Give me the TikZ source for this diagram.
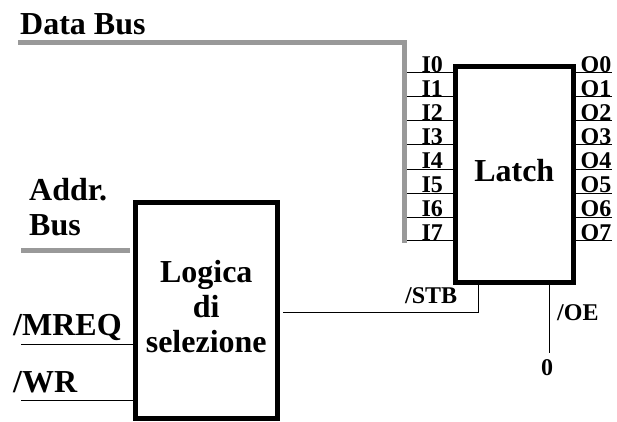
\documentclass[tikz,border=0pt]{standalone}
\usepackage{fontspec}
\setmainfont{Liberation Serif}
\usetikzlibrary{positioning}

\begin{document}
\begin{tikzpicture}[x=1pt, y=-1pt,
        block/.style={draw, rectangle, line width=5pt, align=center, inner sep=0pt, text depth=8pt, font=\fontsize{32}{35}\selectfont\bfseries},
        biglabel/.style={inner sep=0pt, align=left, font=\fontsize{32}{35}\selectfont\bfseries},
        pinlabel/.style={inner sep=0pt, text depth=0pt, font=\fontsize{24}{26}\selectfont\bfseries},
        bus/.style={draw=black!40, line width=5pt},
        wire/.style={draw, line width=1pt}
    ]
        \useasboundingbox (0,0) rectangle (617,421);

        % Blocks
        \node [block, minimum width=117.5pt, minimum height=216pt] (latch) at (514.25,174.5) {Latch};
        \node [block, minimum width=141.5pt, minimum height=216pt] (logica) at (206.25,310.5) {Logica\\di\\selezione};

        % Data bus
        \node [coordinate] (databus) at (18,42.5) {};
        \node [coordinate] (buscorner) at (404.5,42.5) {};
        \node [coordinate] (busend) at (404.5,242.5) {};
        \draw [bus] (databus) -- (buscorner) -- (busend);
        \node [biglabel, anchor=base west] (datalabel) at (20,34) {Data Bus};

        % Latch inputs
        \node [coordinate] (i0) at (407,72.7) {};
        \node [coordinate, below=24pt of i0] (i1) {};
        \node [coordinate, below=24pt of i1] (i2) {};
        \node [coordinate, below=24.2pt of i2] (i3) {};
        \node [coordinate, below=24.2pt of i3] (i4) {};
        \node [coordinate, below=24pt of i4] (i5) {};
        \node [coordinate, below=24pt of i5] (i6) {};
        \node [coordinate, below=23.6pt of i6] (i7) {};

        \draw [wire] (i0) -- (i0 -| latch.west) node[pinlabel, pos=.55, above=0pt] (i0label) {I0};
        \draw [wire] (i1) -- (i1 -| latch.west) node[pinlabel, pos=.55, above=0pt] (i1label) {I1};
        \draw [wire] (i2) -- (i2 -| latch.west) node[pinlabel, pos=.55, above=0pt] (i2label) {I2};
        \draw [wire] (i3) -- (i3 -| latch.west) node[pinlabel, pos=.55, above=0pt] (i3label) {I3};
        \draw [wire] (i4) -- (i4 -| latch.west) node[pinlabel, pos=.55, above=0pt] (i4label) {I4};
        \draw [wire] (i5) -- (i5 -| latch.west) node[pinlabel, pos=.55, above=0pt] (i5label) {I5};
        \draw [wire] (i6) -- (i6 -| latch.west) node[pinlabel, pos=.55, above=0pt] (i6label) {I6};
        \draw [wire] (i7) -- (i7 -| latch.west) node[pinlabel, pos=.55, above=0pt] (i7label) {I7};

        % Latch outputs
        \node [coordinate] (o0) at (612,72.7) {};
        \node [coordinate, below=24pt of o0] (o1) {};
        \node [coordinate, below=24pt of o1] (o2) {};
        \node [coordinate, below=24.2pt of o2] (o3) {};
        \node [coordinate, below=24.2pt of o3] (o4) {};
        \node [coordinate, below=24pt of o4] (o5) {};
        \node [coordinate, below=24pt of o5] (o6) {};
        \node [coordinate, below=23.6pt of o6] (o7) {};

        \draw [wire] (o0 -| latch.east) -- (o0) node[pinlabel, pos=.56, above=0pt] (o0label) {O0};
        \draw [wire] (o1 -| latch.east) -- (o1) node[pinlabel, pos=.56, above=0pt] (o1label) {O1};
        \draw [wire] (o2 -| latch.east) -- (o2) node[pinlabel, pos=.56, above=0pt] (o2label) {O2};
        \draw [wire] (o3 -| latch.east) -- (o3) node[pinlabel, pos=.56, above=0pt] (o3label) {O3};
        \draw [wire] (o4 -| latch.east) -- (o4) node[pinlabel, pos=.56, above=0pt] (o4label) {O4};
        \draw [wire] (o5 -| latch.east) -- (o5) node[pinlabel, pos=.56, above=0pt] (o5label) {O5};
        \draw [wire] (o6 -| latch.east) -- (o6) node[pinlabel, pos=.56, above=0pt] (o6label) {O6};
        \draw [wire] (o7 -| latch.east) -- (o7) node[pinlabel, pos=.56, above=0pt] (o7label) {O7};

        % Address bus and control inputs
        \node [coordinate] (addrbus) at (21,250) {};
        \node [coordinate] (addrend) at (130,250) {};
        \draw [bus] (addrbus) -- (addrend);
        \node [biglabel, anchor=north west] (addrlabel) at (29,178) {Addr.\\Bus};

        \node [coordinate] (mreq) at (21,344) {};
        \node [coordinate] (wr) at (21,400) {};
        \draw [wire] (mreq) -- (mreq -| logica.west);
        \draw [wire] (wr) -- (wr -| logica.west);
        \node [biglabel, anchor=base west] (mreqlabel) at (13,335) {/MREQ};
        \node [biglabel, anchor=base west] (wrlabel) at (13,392) {/WR};

        % Strobe and output enable
        \node [coordinate] (stbstart) at (283,312) {};
        \node [coordinate] (stbup) at (478,312) {};
        \draw [wire] (stbstart) -- (stbup) -- (stbup |- latch.south);
        \node [pinlabel, anchor=base west] (stblabel) at (405,303) {/STB};

        \node [coordinate] (oeend) at (549.7,352.7) {};
        \draw [wire] (oeend |- latch.south) -- (oeend);
        \node [pinlabel, anchor=base west] (oelabel) at (557,320) {/OE};
        \node [pinlabel, anchor=base] (zero) at (547,375) {0};
    \end{tikzpicture}
\end{document}
